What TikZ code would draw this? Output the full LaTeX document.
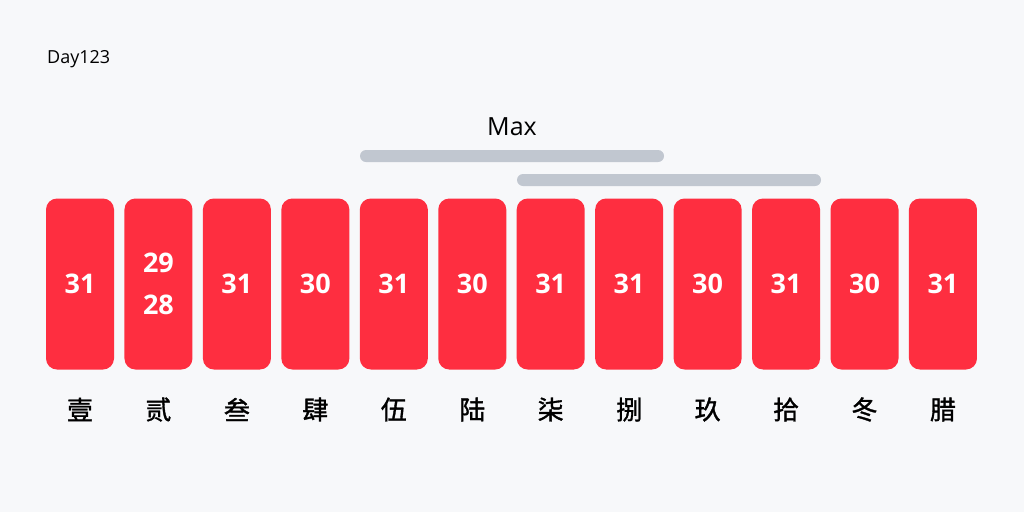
\documentclass[tikz,border=0pt]{standalone}
\usepackage{fontspec}
\setmainfont{Open Sans}
\newfontfamily\numfont{Open Sans Bold}
\newfontfamily\cjk[FakeBold=1.3]{Noto Sans CJK SC}
\usetikzlibrary{positioning}
\definecolor{bgcol}{HTML}{F7F8FA}
\definecolor{monthred}{HTML}{FE2E40}
\definecolor{bargray}{HTML}{C1C7D0}
\begin{document}
\begin{tikzpicture}[x=1pt,y=-1pt,
	month/.style={fill=monthred,draw=none,rounded corners=11pt,minimum width=68pt,minimum height=171pt,inner sep=0pt,outer sep=0pt,text=white,font=\numfont\fontsize{27}{42}\selectfont,align=center},
	mname/.style={inner sep=0pt,font=\cjk\fontsize{26}{26}\selectfont},
	maxbar/.style={fill=bargray,draw=none,rounded corners=6pt,minimum width=304pt,minimum height=12pt,inner sep=0pt,outer sep=0pt}]
\fill[bgcol] (0,0) rectangle (1024,512);
\useasboundingbox (0,0) rectangle (1024,512);
\node[inner sep=0pt,anchor=west,font=\fontsize{18}{18}\selectfont] (title) at (47,59) {Day123};
\node[inner sep=0pt,font=\fontsize{25}{25}\selectfont] (maxlabel) at (512,127) {Max};
\node[maxbar] (bar1) at (512,156) {};
\node[maxbar] (bar2) at (669,180) {};
\foreach \i/\days/\name in {0/31/壹,1/{29\\28}/贰,2/31/叁,3/30/肆,4/31/伍,5/30/陆,6/31/柒,7/31/捌,8/30/玖,9/31/拾,10/30/冬,11/31/腊}{
\node[month] (m\i) at ({80+\i*78.45},284) {\days};
\node[mname,below=40pt of m\i.south,anchor=center] (n\i) {\name};
}
\end{tikzpicture}
\end{document}
